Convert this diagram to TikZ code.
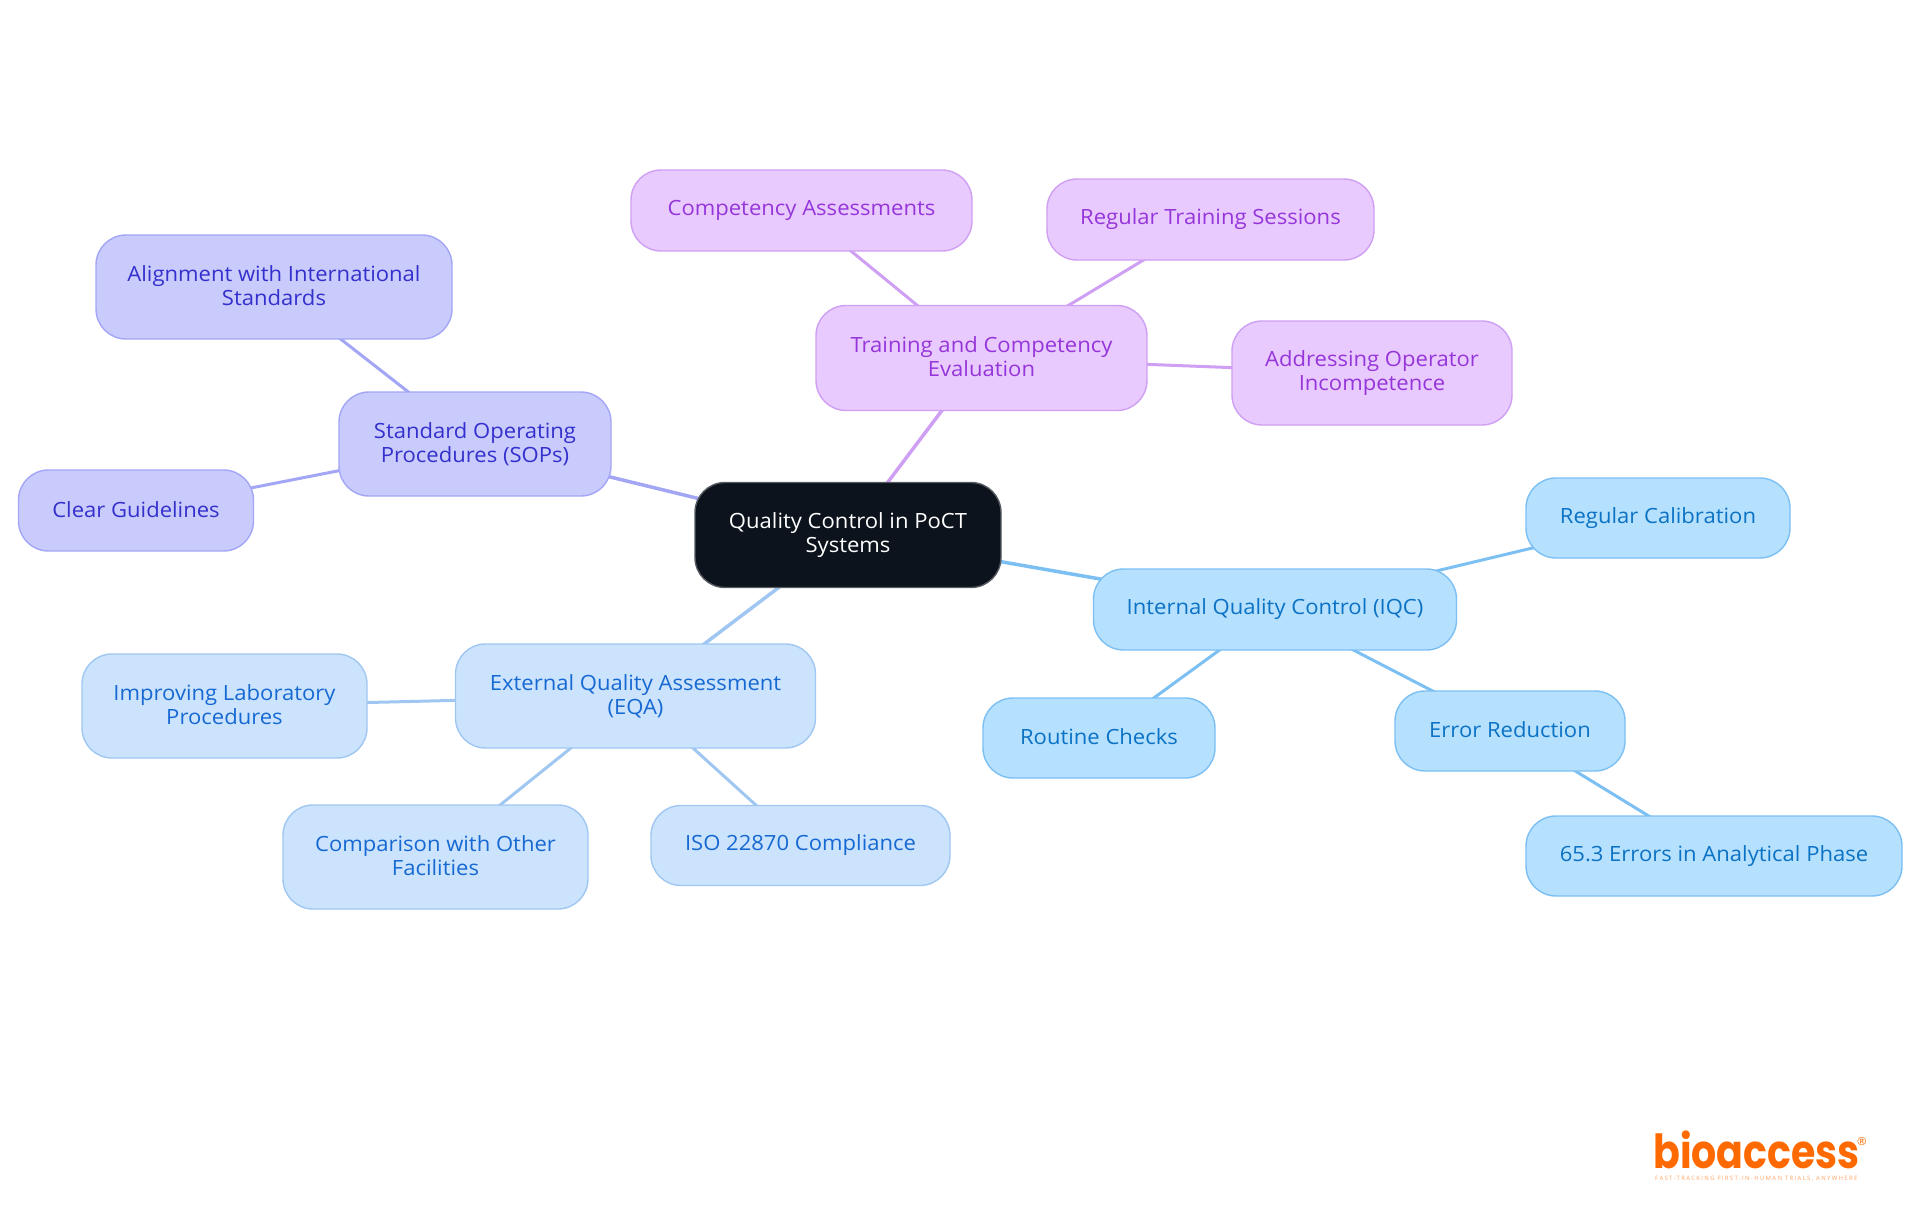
\documentclass[tikz,border=0pt]{standalone}
\usepackage{fontspec}
\setmainfont{Open Sans}[FakeStretch=1.05]
\newfontfamily\logofont{Poppins Bold}[FakeStretch=0.84]
\newfontfamily\tagfont{Open Sans}[LetterSpace=22]
\usetikzlibrary{backgrounds}
\newcommand\oneline[1]{\rule[-3pt]{0pt}{19pt}#1}
\newcommand\twolines[2]{\rule{0pt}{14pt}#1\\\rule[-3pt]{0pt}{3pt}#2}
\definecolor{pfill}{HTML}{E8CAFE}\definecolor{pline}{HTML}{CF9FF3}\definecolor{ptext}{HTML}{9636DA}
\definecolor{ifill}{HTML}{C9CBFD}\definecolor{iline}{HTML}{A3A6F4}\definecolor{itext}{HTML}{3430CC}
\definecolor{bfill}{HTML}{CCE3FD}\definecolor{bline}{HTML}{9FC7F1}\definecolor{btext}{HTML}{1669D2}
\definecolor{sfill}{HTML}{B5E0FE}\definecolor{sline}{HTML}{7CC0F3}\definecolor{stext}{HTML}{0B72C4}
\definecolor{rootfill}{HTML}{0C131C}\definecolor{logoc}{HTML}{FF6A00}
\tikzset{
 x=1pt,y=-1pt,
 mm/.style={rectangle,rounded corners=30pt,line width=1.4pt,inner sep=0pt,align=center,
   font=\fontsize{21}{23.7}\selectfont},
 rootbox/.style={mm,fill=rootfill,draw=rootfill!70!white,text=white},
 pbox/.style={mm,fill=pfill,draw=pline,text=ptext},
 ibox/.style={mm,fill=ifill,draw=iline,text=itext},
 bbox/.style={mm,fill=bfill,draw=bline,text=btext},
 sbox/.style={mm,fill=sfill,draw=sline,text=stext},
 pe/.style={draw=pline,line width=3pt},
 ie/.style={draw=iline,line width=3pt},
 be/.style={draw=bline,line width=3pt},
 se/.style={draw=sline,line width=3pt},
}
\begin{document}
\begin{tikzpicture}
\useasboundingbox (0,0) rectangle (1920,1215);
% root
\node[rootbox,minimum width=306,minimum height=105] (root) at (848,535) {\twolines{Quality Control in PoCT}{Systems}};
% purple
\node[pbox,minimum width=331,minimum height=105] (train) at (981.5,358) {\twolines{Training and Competency}{Evaluation}};
\node[pbox,minimum width=341,minimum height=81] (comp) at (801.5,210.5) {\oneline{Competency Assessments}};
\node[pbox,minimum width=327,minimum height=81] (regt) at (1210.5,219.5) {\oneline{Regular Training Sessions}};
\node[pbox,minimum width=280,minimum height=104] (addr) at (1372,373) {\twolines{Addressing Operator}{Incompetence}};
% indigo
\node[ibox,minimum width=272,minimum height=104] (sop) at (475,444) {\twolines{Standard Operating}{Procedures (SOPs)}};
\node[ibox,minimum width=356,minimum height=104] (align) at (274,287) {\twolines{Alignment with International}{Standards}};
\node[ibox,minimum width=235,minimum height=81] (clear) at (136,510.5) {\oneline{Clear Guidelines}};
% blue
\node[bbox,minimum width=360,minimum height=104] (eqa) at (635.5,696) {\twolines{External Quality Assessment}{(EQA)}};
\node[bbox,minimum width=285,minimum height=104] (impr) at (224.5,706) {\twolines{Improving Laboratory}{Procedures}};
\node[bbox,minimum width=305,minimum height=104] (cmp) at (435.5,857) {\twolines{Comparison with Other}{Facilities}};
\node[bbox,minimum width=299,minimum height=80] (iso) at (800.5,845.5) {\oneline{ISO 22870 Compliance}};
% sky
\node[sbox,minimum width=363,minimum height=81] (iqc) at (1275,609.5) {\oneline{Internal Quality Control (IQC)}};
\node[sbox,minimum width=264,minimum height=80] (cal) at (1658,518) {\oneline{Regular Calibration}};
\node[sbox,minimum width=232,minimum height=80] (rout) at (1099,738) {\oneline{Routine Checks}};
\node[sbox,minimum width=230,minimum height=80] (err) at (1510,731) {\oneline{Error Reduction}};
\node[sbox,minimum width=376,minimum height=80] (phase) at (1714,856) {\oneline{65.3 Errors in Analytical Phase}};
% edges
\begin{pgfonlayer}{background}
\draw[pe,line width=3.5pt] (root.center) -- (train.center);
\draw[pe] (train.center) -- (comp.center);
\draw[pe] (train.center) -- (regt.center);
\draw[pe] (train.center) -- (addr.center);
\draw[ie,line width=3.5pt] (root.center) -- (sop.center);
\draw[ie] (sop.center) -- (align.center);
\draw[ie] (sop.center) -- (clear.center);
\draw[be,line width=3.5pt] (root.center) -- (eqa.center);
\draw[be] (eqa.center) -- (impr.center);
\draw[be] (eqa.center) -- (cmp.center);
\draw[be] (eqa.center) -- (iso.center);
\draw[se,line width=3.5pt] (root.center) -- (iqc.center);
\draw[se] (iqc.center) -- (cal.center);
\draw[se] (iqc.center) -- (rout.center);
\draw[se] (iqc.center) -- (err.center);
\draw[se] (err.center) -- (phase.center);
\end{pgfonlayer}
% logo
\node[anchor=base west,inner sep=0pt,text=logoc,font=\logofont\fontsize{47}{47}\selectfont] (logo) at (1653,1168) {bioaccess};
\node[anchor=center,inner sep=0pt,text=logoc,font=\fontsize{11}{11}\selectfont] (reg) at (1862,1142) {\textregistered};
\node[anchor=base west,inner sep=0pt,text=logoc!60!white,font=\tagfont\fontsize{6}{6}\selectfont] (tag) at (1655,1180) {FAST-TRACKING FIRST-IN-HUMAN TRIALS, ANYWHERE};
\end{tikzpicture}
\end{document}
